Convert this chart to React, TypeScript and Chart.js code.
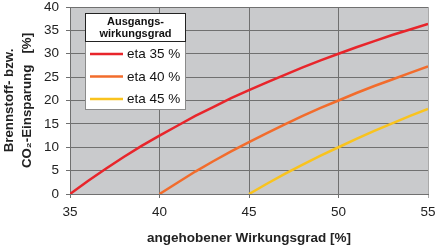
import React, { useEffect, useRef } from "react";
import { Chart, registerables } from "chart.js";

Chart.register(...registerables);

const FONT = "'Liberation Sans', Arial, sans-serif";

const xTitle = "angehobener Wirkungsgrad [%]";
const yTitle = ["Brennstoff- bzw.", "CO₂-Einsparung   [%]"];
const legendTitle = ["Ausgangs-", "wirkungsgrad"];

const seriesLabels = ["eta 35 %", "eta 40 %", "eta 45 %"];
const seriesColors = ["#e8252b", "#f26c2c", "#f9c31e"];

const x35 = [35, 36, 37, 38, 39, 40, 41, 42, 43, 44, 45, 46, 47, 48, 49, 50, 51, 52, 53, 54, 55];
const y35 = [0, 2.8, 5.4, 7.9, 10.3, 12.5, 14.6, 16.7, 18.6, 20.5, 22.2, 23.9, 25.5, 27.1, 28.6, 30.0, 31.4, 32.7, 34.0, 35.2, 36.4];

const x40 = [40, 41, 42, 43, 44, 45, 46, 47, 48, 49, 50, 51, 52, 53, 54, 55];
const y40 = [0, 2.4, 4.8, 7.0, 9.1, 11.1, 13.0, 14.9, 16.7, 18.4, 20.0, 21.6, 23.1, 24.5, 25.9, 27.3];

const x45 = [45, 46, 47, 48, 49, 50, 51, 52, 53, 54, 55];
const y45 = [0, 2.2, 4.3, 6.3, 8.2, 10.0, 11.8, 13.5, 15.1, 16.7, 18.2];

const xMin = 35;
const xMax = 55;
const xStep = 5;
const yMin = 0;
const yMax = 40;
const yStep = 5;

const toPts = (xs: number[], ys: number[]) => xs.map((x, i) => ({ x, y: ys[i] }));

const bgPlugin = {
  id: "plotBg",
  beforeDraw(chart: any) {
    const { ctx, chartArea } = chart;
    ctx.save();
    ctx.fillStyle = "#c9cacc";
    ctx.fillRect(chartArea.left, chartArea.top, chartArea.right - chartArea.left, chartArea.bottom - chartArea.top);
    ctx.restore();
  },
};

const legendPlugin = {
  id: "boxLegend",
  afterDraw(chart: any) {
    const ctx = chart.ctx;
    const L = 85.5, T = 13.5, R = 185.5, B = 109.5, TB = 41.5;
    ctx.save();
    ctx.fillStyle = "#ffffff";
    ctx.fillRect(L, T, R - L, B - T);
    ctx.lineWidth = 1;
    ctx.strokeStyle = "#8a8a8a";
    ctx.strokeRect(L, T, R - L, B - T);
    ctx.strokeStyle = "#222222";
    ctx.strokeRect(L, T, R - L, TB - T);
    ctx.fillStyle = "#111111";
    ctx.textAlign = "center";
    ctx.textBaseline = "middle";
    ctx.font = `bold 11px ${FONT}`;
    legendTitle.forEach((t, i) => ctx.fillText(t, (L + R) / 2, 21.5 + i * 12));
    ctx.font = `13.5px ${FONT}`;
    ctx.textAlign = "left";
    chart.data.datasets.forEach((ds: any, i: number) => {
      const cy = 54 + i * 22.5;
      ctx.strokeStyle = ds.borderColor;
      ctx.lineWidth = 2.5;
      ctx.beginPath();
      ctx.moveTo(90, cy);
      ctx.lineTo(123, cy);
      ctx.stroke();
      ctx.fillStyle = "#111111";
      ctx.fillText(ds.label, 127, cy + 0.5);
    });
    ctx.restore();
  },
};

export default function App() {
  const ref = useRef<HTMLCanvasElement>(null);
  useEffect(() => {
    if (!ref.current) return;
    const chart = new Chart(ref.current, {
      type: "line",
      data: {
        datasets: [
          { label: seriesLabels[0], data: toPts(x35, y35), borderColor: seriesColors[0], backgroundColor: seriesColors[0] },
          { label: seriesLabels[1], data: toPts(x40, y40), borderColor: seriesColors[1], backgroundColor: seriesColors[1] },
          { label: seriesLabels[2], data: toPts(x45, y45), borderColor: seriesColors[2], backgroundColor: seriesColors[2] },
        ].map((d) => ({ ...d, borderWidth: 2.5, pointRadius: 0, tension: 0, fill: false })),
      },
      options: {
        animation: false,
        responsive: false,
        layout: { padding: { top: 7, right: 7, left: 0, bottom: 0 } },
        plugins: { legend: { display: false }, tooltip: { enabled: false } },
        scales: {
          x: {
            type: "linear",
            min: xMin,
            max: xMax,
            ticks: { stepSize: xStep, padding: 6, color: "#222", font: { family: FONT, size: 13.5 } },
            grid: {
              color: (c: any) => (c.tick && c.tick.value === xMax ? "#a9a9a9" : "#707070"),
              tickLength: 4,
            },
            border: { color: "#707070" },
            title: {
              display: true,
              text: xTitle,
              color: "#222",
              font: { family: FONT, size: 13.5, weight: "bold" },
              padding: { top: 0, bottom: 2 },
            },
            afterFit: (s: any) => {
              s.height = 54;
              s.paddingLeft = 0;
              s.paddingRight = 0;
            },
          },
          y: {
            min: yMin,
            max: yMax,
            ticks: { stepSize: yStep, padding: 7, color: "#222", font: { family: FONT, size: 13.5 } },
            grid: { color: "#707070", tickLength: 4 },
            border: { color: "#707070" },
            title: {
              display: true,
              text: yTitle,
              color: "#222",
              font: { family: FONT, size: 13.3, weight: "bold", lineHeight: 1.35 },
              padding: { top: 0, bottom: 0 },
            },
            afterFit: (s: any) => {
              s.width = 70;
              s.paddingTop = 0;
              s.paddingBottom = 0;
            },
          },
        },
      },
      plugins: [bgPlugin, legendPlugin],
    } as any);
    return () => chart.destroy();
  }, []);
  return (
    <div style={{ position: "absolute", left: 0, top: 0, width: 435, height: 248, background: "#fff" }}>
      <canvas ref={ref} width={435} height={248} style={{ display: "block" }} />
    </div>
  );
}
